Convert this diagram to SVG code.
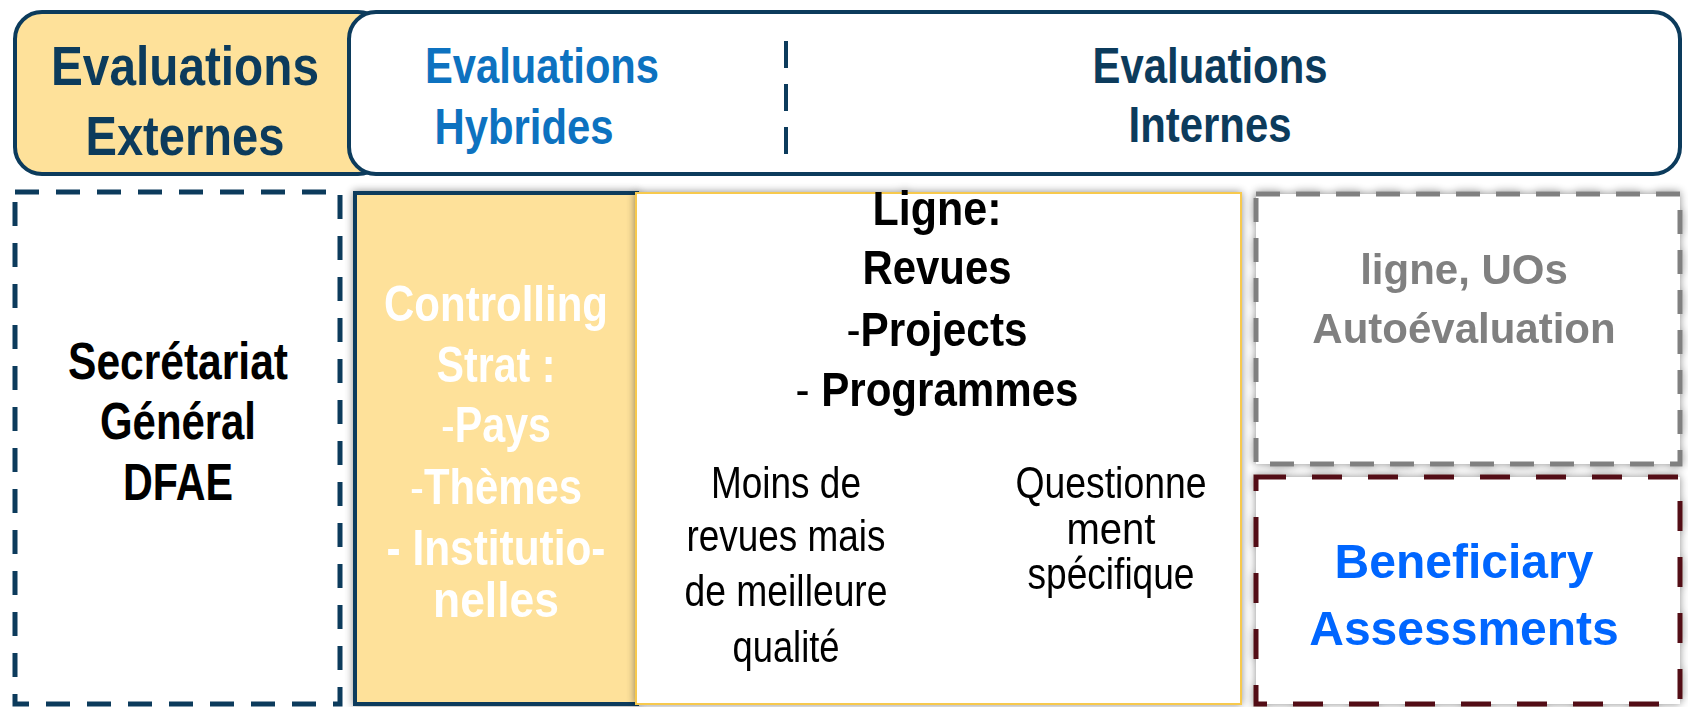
<svg xmlns="http://www.w3.org/2000/svg" width="1688" height="707" viewBox="0 0 1688 707">
<defs>
<style>
.n{font-family:"Liberation Sans Narrow","Liberation Sans",Arial,sans-serif;text-anchor:middle}
.a{font-family:"Liberation Sans",Arial,sans-serif;text-anchor:middle;font-weight:bold}
.b{font-weight:bold}
.navy{fill:#0c3b5c}
</style>
<filter id="sh" x="-10%" y="-10%" width="120%" height="120%">
<feGaussianBlur in="SourceAlpha" stdDeviation="4"/>
<feOffset dx="0" dy="0" result="o"/>
<feComponentTransfer><feFuncA type="linear" slope="0.45"/></feComponentTransfer>
<feMerge><feMergeNode/><feMergeNode in="SourceGraphic"/></feMerge>
</filter>
</defs>
<rect width="1688" height="707" fill="#ffffff"/>
<g id="externes">
<rect x="15" y="12" width="370" height="162" rx="27" fill="#fee19a" stroke="#0c3b5c" stroke-width="4"/>
<text class="n b navy" x="185" y="85" font-size="56" textLength="268" lengthAdjust="spacingAndGlyphs">Evaluations</text>
<text class="n b navy" x="185" y="155" font-size="56" textLength="199" lengthAdjust="spacingAndGlyphs">Externes</text>
</g>
<g id="internes">
<rect x="349" y="12" width="1331" height="162" rx="27" fill="#ffffff" stroke="#0c3b5c" stroke-width="4"/>
<text class="n b" x="542" y="83" font-size="50" fill="#0d72c0" textLength="234" lengthAdjust="spacingAndGlyphs">Evaluations</text>
<text class="n b" x="524" y="144" font-size="50" fill="#0d72c0" textLength="179" lengthAdjust="spacingAndGlyphs">Hybrides</text>
<text class="n b navy" x="1210" y="83" font-size="50" textLength="235" lengthAdjust="spacingAndGlyphs">Evaluations</text>
<text class="n b navy" x="1210" y="142" font-size="50" textLength="163" lengthAdjust="spacingAndGlyphs">Internes</text>
</g>
<g id="connectors">
<line x1="786" y1="41" x2="786" y2="160" stroke="#0c3b5c" stroke-width="4" stroke-dasharray="27 16"/>
<line x1="953" y1="463" x2="953" y2="676" stroke="#2a5f8a" stroke-width="1.5" stroke-dasharray="6 5"/>
</g>
<g id="secretariat">
<rect x="15" y="192" width="325" height="512" fill="#ffffff" stroke="#0c3b5c" stroke-width="5" stroke-dasharray="24 17"/>
<text class="n b" x="178" y="379" font-size="52" fill="#000" textLength="220" lengthAdjust="spacingAndGlyphs">Secrétariat</text>
<text class="n b" x="178" y="439" font-size="52" fill="#000" textLength="156" lengthAdjust="spacingAndGlyphs">Général</text>
<text class="n b" x="178" y="500" font-size="52" fill="#000" textLength="110" lengthAdjust="spacingAndGlyphs">DFAE</text>
</g>
<g id="controlling" filter="url(#sh)">
<rect x="355" y="193" width="282" height="511" fill="#fee19a" stroke="#0c3b5c" stroke-width="4"/>
<text class="n b" x="496" y="321" font-size="50" fill="#ffffff" textLength="224" lengthAdjust="spacingAndGlyphs">Controlling</text>
<text class="n b" x="496" y="382" font-size="50" fill="#ffffff" textLength="119" lengthAdjust="spacingAndGlyphs">Strat :</text>
<text class="n b" x="496" y="442" font-size="50" fill="#ffffff" textLength="110" lengthAdjust="spacingAndGlyphs"><tspan font-weight="normal">-</tspan>Pays</text>
<text class="n b" x="496" y="504" font-size="50" fill="#ffffff" textLength="172" lengthAdjust="spacingAndGlyphs"><tspan font-weight="normal">-</tspan>Thèmes</text>
<text class="n b" x="496" y="565" font-size="50" fill="#ffffff" textLength="219" lengthAdjust="spacingAndGlyphs">- Institutio-</text>
<text class="n b" x="496" y="617" font-size="50" fill="#ffffff" textLength="126" lengthAdjust="spacingAndGlyphs">nelles</text>
</g>
<g id="ligne" filter="url(#sh)">
<rect x="636" y="193" width="605" height="511" fill="#ffffff" stroke="#f7c94e" stroke-width="2"/>
<text class="n b" x="937" y="225" font-size="48" fill="#000" textLength="129" lengthAdjust="spacingAndGlyphs">Ligne:</text>
<text class="n b" x="937" y="284" font-size="48" fill="#000" textLength="149" lengthAdjust="spacingAndGlyphs">Revues</text>
<text class="n b" x="937" y="346" font-size="48" fill="#000" textLength="181" lengthAdjust="spacingAndGlyphs"><tspan font-weight="normal">-</tspan>Projects</text>
<text class="n b" x="937" y="406" font-size="48" fill="#000" textLength="283" lengthAdjust="spacingAndGlyphs"><tspan font-weight="normal">-</tspan> Programmes</text>
<text class="n" x="786" y="498" font-size="44" fill="#000" textLength="150" lengthAdjust="spacingAndGlyphs">Moins de</text>
<text class="n" x="786" y="551" font-size="44" fill="#000" textLength="199" lengthAdjust="spacingAndGlyphs">revues mais</text>
<text class="n" x="786" y="606" font-size="44" fill="#000" textLength="203" lengthAdjust="spacingAndGlyphs">de meilleure</text>
<text class="n" x="786" y="662" font-size="44" fill="#000" textLength="107" lengthAdjust="spacingAndGlyphs">qualité</text>
<text class="n" x="1111" y="498" font-size="44" fill="#000" textLength="191" lengthAdjust="spacingAndGlyphs">Questionne</text>
<text class="n" x="1111" y="544" font-size="44" fill="#000" textLength="89" lengthAdjust="spacingAndGlyphs">ment</text>
<text class="n" x="1111" y="589" font-size="44" fill="#000" textLength="167" lengthAdjust="spacingAndGlyphs">spécifique</text>
</g>
<g id="autoevaluation" filter="url(#sh)">
<rect x="1256" y="194" width="424" height="270" fill="#ffffff" stroke="#808080" stroke-width="5" stroke-dasharray="24 16"/>
<text class="a" x="1464" y="284" font-size="42" fill="#808080">ligne, UOs</text>
<text class="a" x="1464" y="343" font-size="42" fill="#808080">Autoévaluation</text>
</g>
<g id="beneficiary" filter="url(#sh)">
<rect x="1256" y="477" width="424" height="227" fill="#ffffff" stroke="#520e14" stroke-width="5" stroke-dasharray="30 26"/>
<text class="a" x="1464" y="578" font-size="48" fill="#0066ff">Beneficiary</text>
<text class="a" x="1464" y="645" font-size="48" fill="#0066ff">Assessments</text>
</g>
</svg>
